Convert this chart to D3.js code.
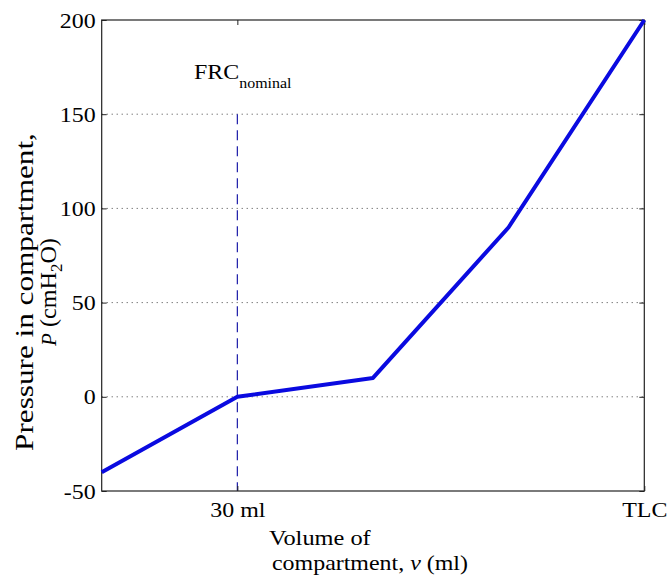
<!DOCTYPE html>
<html>
<head>
<meta charset="utf-8">
<script src="https://cdn.jsdelivr.net/npm/d3@7"></script>
<style>
  html, body { margin: 0; padding: 0; background: #fff; }
  svg { display: block; }
  text { font-family: "Liberation Serif", "Times New Roman", serif; fill: #000; }
</style>
</head>
<body>
<svg id="chart" width="670" height="579"></svg>
<script>
// Pressure–volume relation of a single compartment
const volume = [0, 30, 60, 90, 120];
const pressure = [-40, 0, 10, 90, 200];

const xDomain = [0, 120];
const yDomain = [-50, 200];
const yTicks = [-50, 0, 50, 100, 150, 200];
const yTickLabels = ["-50", "0", "50", "100", "150", "200"];
const gridValues = [0, 50, 100, 150];
const xTicks = [30, 120];
const xTickLabels = ["30 ml", "TLC"];

const frcVolume = 30;
const frcTop = 150;

const svg = d3.select("#chart");
const W = 670, H = 579;
const margin = { left: 101.7, top: 20, right: W - 644.3, bottom: H - 491 };
const iw = W - margin.left - margin.right;
const ih = H - margin.top - margin.bottom;

const x = d3.scaleLinear().domain(xDomain).range([0, iw]);
const y = d3.scaleLinear().domain(yDomain).range([ih, 0]);

const g = svg.append("g").attr("transform", `translate(${margin.left},${margin.top})`);

// horizontal dotted grid
g.append("g").selectAll("line").data(gridValues).join("line")
  .attr("x1", 0).attr("x2", iw)
  .attr("y1", d => y(d)).attr("y2", d => y(d))
  .attr("stroke", "#444").attr("stroke-width", 1)
  .attr("stroke-dasharray", "1,4");

// FRC marker
g.append("line")
  .attr("x1", x(frcVolume)).attr("x2", x(frcVolume))
  .attr("y1", y(frcTop)).attr("y2", y(yDomain[0]))
  .attr("stroke", "#1c1ca8").attr("stroke-width", 1.2)
  .attr("stroke-dasharray", "10,6");

// axes with inward ticks
const stretch = 1.14;
const axisFont = 21;

const axisL = g.append("g").call(
  d3.axisLeft(y).tickValues(yTicks).tickSizeInner(-5).tickSizeOuter(0).tickPadding(7)
    .tickFormat((d, i) => yTickLabels[i])
);
const axisR = g.append("g").attr("transform", `translate(${iw},0)`).call(
  d3.axisRight(y).tickValues(yTicks).tickSizeInner(-5).tickSizeOuter(0).tickFormat("")
);
const axisB = g.append("g").attr("transform", `translate(0,${ih})`).call(
  d3.axisBottom(x).tickValues(xTicks).tickSizeInner(-5).tickSizeOuter(0)
    .tickPadding(10).tickFormat((d, i) => xTickLabels[i])
);
const axisT = g.append("g").call(
  d3.axisTop(x).tickValues(xTicks).tickSizeInner(-5).tickSizeOuter(0).tickFormat("")
);

[axisL, axisR, axisB, axisT].forEach(a => {
  a.select(".domain").remove();
  a.selectAll(".tick line").attr("stroke", "#222");
});

axisL.selectAll(".tick text")
  .attr("font-size", axisFont).attr("font-family", null)
  .attr("x", 0).attr("dy", "0.34em")
  .attr("transform", `translate(-6,0) scale(${stretch},1)`);

axisB.selectAll(".tick text")
  .attr("font-size", axisFont).attr("font-family", null)
  .attr("y", 0).attr("dy", null)
  .attr("transform", `translate(0,26) scale(${stretch},1)`);

// axes box
g.append("rect")
  .attr("x", 0).attr("y", 0).attr("width", iw).attr("height", ih)
  .attr("fill", "none").attr("stroke", "#222").attr("stroke-width", 1.2);

// pressure curve
const line = d3.line().x((d, i) => x(volume[i])).y(d => y(d));
g.append("path")
  .datum(pressure)
  .attr("d", line)
  .attr("fill", "none")
  .attr("stroke", "#0a0ae0")
  .attr("stroke-width", 4)
  .attr("stroke-linejoin", "round");

// FRC label
const frc = svg.append("text")
  .attr("transform", `translate(194,79) scale(${stretch},1)`)
  .attr("font-size", 21);
frc.append("tspan").text("FRC");
frc.append("tspan").attr("font-size", 14).attr("dy", 9).text("nominal");

// x label
svg.append("text")
  .attr("transform", `translate(269,545) scale(1.16,1)`)
  .attr("font-size", 21).text("Volume of");
const xl2 = svg.append("text")
  .attr("transform", `translate(272,570) scale(${stretch},1)`)
  .attr("font-size", 21);
xl2.append("tspan").text("compartment, ");
xl2.append("tspan").attr("font-style", "italic").text("v");
xl2.append("tspan").text(" (ml)");

// y label
svg.append("text")
  .attr("transform", `translate(33,292) rotate(-90) scale(1.2,1)`)
  .attr("text-anchor", "middle")
  .attr("font-size", 26)
  .text("Pressure in compartment,");
const yl2 = svg.append("text")
  .attr("transform", `translate(56,292) rotate(-90) scale(1.05,1)`)
  .attr("text-anchor", "middle")
  .attr("font-size", 23);
yl2.append("tspan").attr("font-style", "italic").attr("font-size", 20).text("P");
yl2.append("tspan").text(" (cmH");
yl2.append("tspan").attr("font-size", 16).attr("dy", 6).text("2");
yl2.append("tspan").attr("dy", -6).text("O)");
</script>
</body>
</html>
